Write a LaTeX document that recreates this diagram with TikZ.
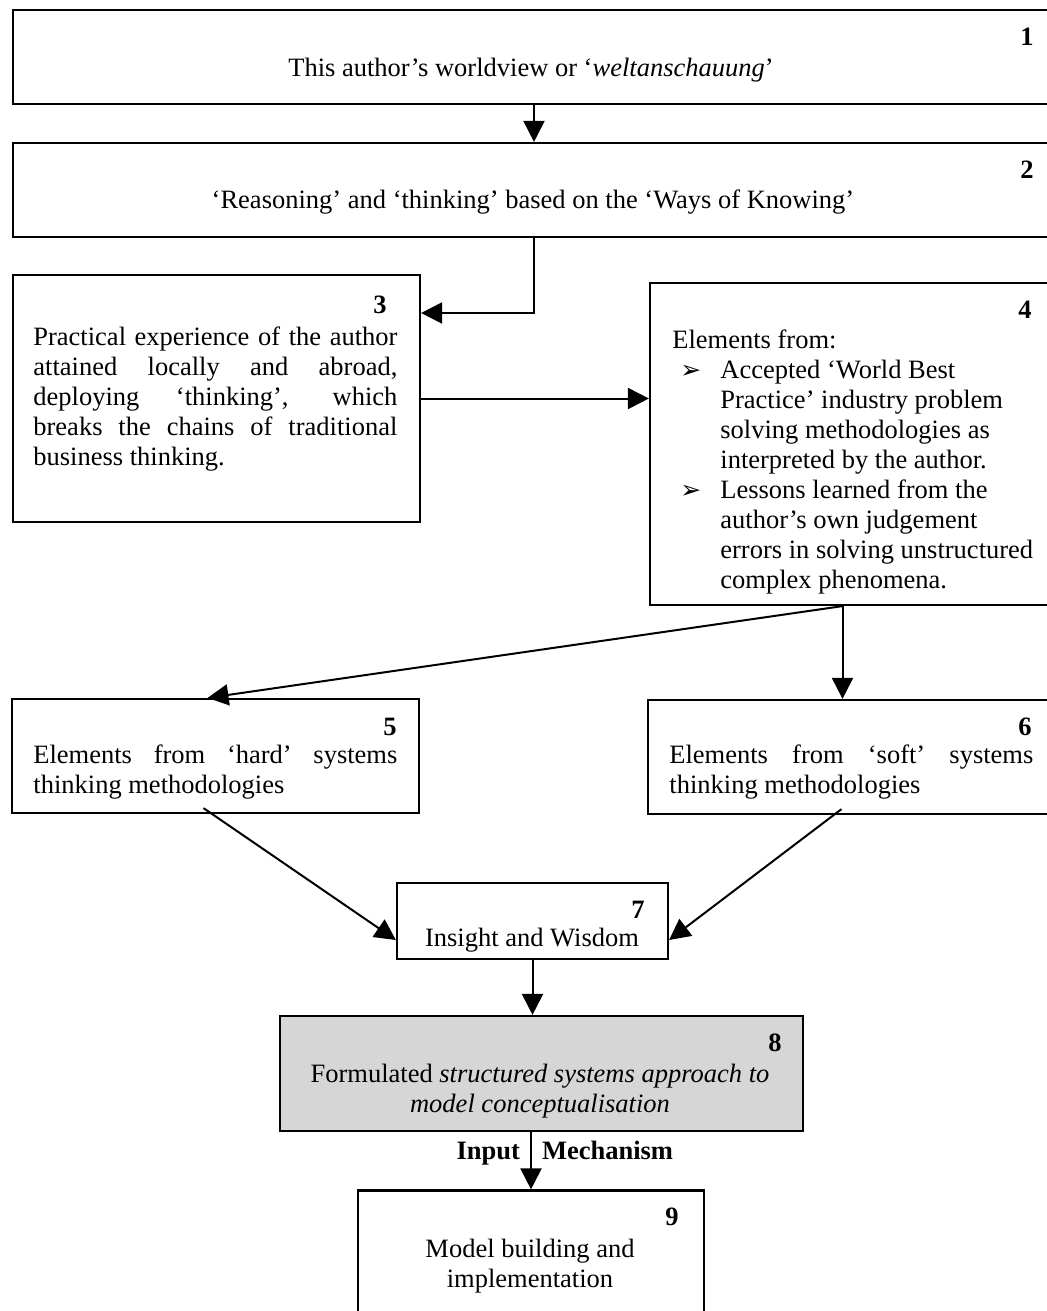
\documentclass[tikz,border=0pt]{standalone}
\usepackage{fontspec}
\setmainfont{Liberation Serif}
\newfontfamily\arrowfont{DejaVu Sans}
\usetikzlibrary{arrows.meta}

\begin{document}
\begin{tikzpicture}[x=0.5pt, y=-0.5pt,
    box/.style={draw, line width=1.1pt, inner sep=0pt},
    txt/.style={font=\fontsize{13.25}{15}\selectfont, inner sep=0pt},
    num/.style={txt, font=\fontsize{13.25}{15}\selectfont\bfseries},
    para/.style={txt, text width=182pt, align=justify, anchor=north west},
    arr/.style={line width=1pt, -{Triangle[width=10.5pt, length=10.5pt]}}]
    % Page
    \useasboundingbox (0,0) rectangle (1047,1311);

    % Boxes
    \node[box, minimum width=521pt, minimum height=47pt] (b1) at (534,57) {};
    \node[box, minimum width=521pt, minimum height=47pt] (b2) at (534,190) {};
    \node[box, minimum width=203.5pt, minimum height=123.5pt] (b3) at (216.5,398.5) {};
    \node[box, minimum width=202.5pt, minimum height=161pt] (b4) at (852.5,444) {};
    \node[box, minimum width=203.5pt, minimum height=57pt] (b5) at (215.5,756) {};
    \node[box, minimum width=203.5pt, minimum height=57pt] (b6) at (851.5,757) {};
    \node[box, minimum width=135.5pt, minimum height=38pt] (b7) at (532.5,921) {};
    \node[box, fill=black!16, minimum width=261.5pt, minimum height=57.5pt] (b8) at (541.5,1073.5) {};
    \node[box, minimum width=173pt, minimum height=69.5pt] (b9) at (531,1260) {};

    % Numbers
    \node[num] (n1) at (1027,37) {1};
    \node[num] (n2) at (1027,170) {2};
    \node[num] (n3) at (380,305) {3};
    \node[num] (n4) at (1025,310) {4};
    \node[num] (n5) at (390,727) {5};
    \node[num] (n6) at (1025,727) {6};
    \node[num] (n7) at (638,910) {7};
    \node[num] (n8) at (775,1043) {8};
    \node[num] (n9) at (672,1217) {9};

    % Texts
    \node[txt, anchor=base] (t1) at (531,76) {This author’s worldview or ‘\textit{weltanschauung}’};
    \node[txt, anchor=base] (t2) at (533,208) {‘Reasoning’ and ‘thinking’ based on the ‘Ways of Knowing’};
    \node[para] (t3) at (33,324) {\strut Practical experience of the author\linebreak
      attained locally and abroad,\linebreak
      deploying ‘thinking’, which\linebreak
      breaks the chains of traditional\linebreak
      business thinking.};
    \node[txt, anchor=north west, align=left] (t4) at (672,327) {\strut Elements from:\\
      \hspace*{4pt}\makebox[20pt][l]{\arrowfont\fontsize{12.5}{15}\selectfont ➢}Accepted ‘World Best\\
      \hspace*{24pt}Practice’ industry problem\\
      \hspace*{24pt}solving methodologies as\\
      \hspace*{24pt}interpreted by the author.\\
      \hspace*{4pt}\makebox[20pt][l]{\arrowfont\fontsize{12.5}{15}\selectfont ➢}Lessons learned from the\\
      \hspace*{24pt}author’s own judgement\\
      \hspace*{24pt}errors in solving unstructured\\
      \hspace*{24pt}complex phenomena.};
    \node[para] (t5) at (33,742) {\strut Elements from ‘hard’ systems\linebreak thinking methodologies};
    \node[para] (t6) at (669,742) {\strut Elements from ‘soft’ systems\linebreak thinking methodologies};
    \node[txt, anchor=base] (t7) at (532,946) {Insight and Wisdom};
    \node[txt, anchor=north, align=center] (t8) at (540,1061) {\strut Formulated \textit{structured systems approach to}\\ \textit{model conceptualisation}};
    \node[txt, anchor=north, align=center] (t9) at (530,1236) {\strut Model building and\\ implementation};

    % Arrows
    \draw[arr] (b1.south) -- (b2.north);
    \draw[arr] (b2.south) |- ([yshift=42.75pt]b3.east);
    \draw[arr] (b3.east) -- (b3.east -| b4.west);
    \draw[arr] ([xshift=-5pt]b4.south) -- ([xshift=-4pt]b5.north);
    \draw[arr] ([xshift=-5pt]b4.south) -- ([xshift=-5pt]b4.south |- b6.north);
    \draw[arr] ([xshift=-6pt,yshift=3pt]b5.south) -- ([yshift=-9.5pt]b7.west);
    \draw[arr] ([xshift=-5pt,yshift=3pt]b6.south) -- ([yshift=-9.5pt]b7.east);
    \draw[arr] (b7.south) -- (b7.south |- b8.north);
    \draw[arr] (b9.north |- b8.south) --
      node[num, pos=0.48, anchor=base east, xshift=-5pt] (inp) {Input}
      node[num, pos=0.48, anchor=base west, xshift=5pt] (mech) {Mechanism} (b9.north);
\end{tikzpicture}
\end{document}
